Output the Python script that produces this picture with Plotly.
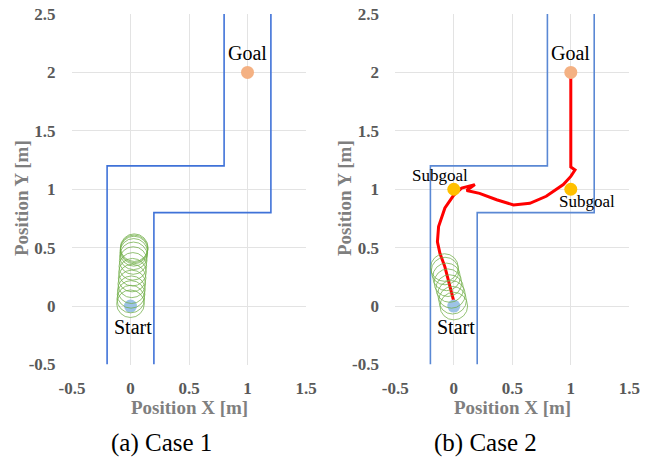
import plotly.graph_objects as go

# ---- data ----
wall_left_x = [-0.2, -0.2, 0.8, 0.8]
wall_left_y = [-0.5, 1.2, 1.2, 2.5]
wall_right_x = [0.2, 0.2, 1.2, 1.2]
wall_right_y = [-0.5, 0.8, 0.8, 2.5]

start = (0.0, 0.0)
goal = (1.0, 2.0)
subgoals_x = [0.0, 1.0]
subgoals_y = [1.0, 1.0]

robot_radius = 0.118
case1_cx = [0.0, 0.002, 0.005, 0.008, 0.011, 0.014, 0.017, 0.02, 0.023, 0.026, 0.028, 0.03, 0.031, 0.032]
case1_cy = [0.02, 0.06, 0.1, 0.14, 0.19, 0.24, 0.29, 0.34, 0.39, 0.43, 0.46, 0.48, 0.49, 0.5]
case2_cx = [0.0, -0.01, -0.02, -0.035, -0.05, -0.062, -0.075, -0.08]
case2_cy = [0.0, 0.05, 0.1, 0.15, 0.2, 0.25, 0.3, 0.33]

path_x = [0.0, -0.033, -0.076, -0.118, -0.14, -0.13, -0.076, 0.0, 0.067, 0.18, 0.11,
          0.22, 0.366, 0.51, 0.65, 0.79, 0.936, 1.0, 1.036, 1.0, 1.0, 1.0]
path_y = [0.04, 0.165, 0.336, 0.45, 0.55, 0.68, 0.84, 0.95, 1.01, 1.04, 0.99,
          0.965, 0.91, 0.866, 0.88, 0.94, 1.04, 1.11, 1.165, 1.19, 1.48, 2.0]

x_ticks = [-0.5, 0, 0.5, 1, 1.5]
y_ticks = [-0.5, 0, 0.5, 1, 1.5, 2, 2.5]
captions = ["(a) Case 1", "(b) Case 2"]

W, H = 654, 458
SERIF = "Liberation Serif"
wall_colors = ["#3F72D8", "#5A88D4"]

fig = go.Figure()

doms_x = [(72 / W, 306 / W), (395.3 / W, 629.3 / W)]
dom_y = (1 - 364.5 / H, 1 - 14 / H)

for i in range(2):
    xa = "x" if i == 0 else "x2"
    ya = "y" if i == 0 else "y2"
    col = wall_colors[i]
    fig.add_trace(go.Scatter(x=wall_left_x, y=wall_left_y, mode="lines",
                             line=dict(color=col, width=1.6), xaxis=xa, yaxis=ya,
                             showlegend=False, hoverinfo="skip"))
    fig.add_trace(go.Scatter(x=wall_right_x, y=wall_right_y, mode="lines",
                             line=dict(color=col, width=1.6), xaxis=xa, yaxis=ya,
                             showlegend=False, hoverinfo="skip"))
    cxs, cys = (case1_cx, case1_cy) if i == 0 else (case2_cx, case2_cy)
    for cx, cy in zip(cxs, cys):
        fig.add_shape(type="circle", xref=xa, yref=ya,
                      x0=cx - robot_radius, x1=cx + robot_radius,
                      y0=cy - robot_radius, y1=cy + robot_radius,
                      line=dict(color="rgba(112,173,71,0.75)", width=1))
    if i == 1:
        fig.add_trace(go.Scatter(x=path_x, y=path_y, mode="lines",
                                 line=dict(color="#FF0000", width=3), xaxis=xa, yaxis=ya,
                                 showlegend=False, hoverinfo="skip"))
        fig.add_trace(go.Scatter(x=subgoals_x, y=subgoals_y, mode="markers",
                                 marker=dict(color="#FFC000", size=13), xaxis=xa, yaxis=ya,
                                 showlegend=False, hoverinfo="skip"))
        fig.add_annotation(x=subgoals_x[0] - 0.115, y=subgoals_y[0] + 0.12, xref=xa, yref=ya,
                           text="Subgoal", showarrow=False, xanchor="center", yanchor="middle",
                           font=dict(family=SERIF, size=17, color="black"))
        fig.add_annotation(x=subgoals_x[1] + 0.135, y=subgoals_y[1] - 0.105, xref=xa, yref=ya,
                           text="Subgoal", showarrow=False, xanchor="center", yanchor="middle",
                           font=dict(family=SERIF, size=17, color="black"))
    fig.add_trace(go.Scatter(x=[start[0]], y=[start[1]], mode="markers",
                             marker=dict(color="#9DC3E6", size=13), xaxis=xa, yaxis=ya,
                             showlegend=False, hoverinfo="skip"))
    fig.add_trace(go.Scatter(x=[goal[0]], y=[goal[1]], mode="markers",
                             marker=dict(color="#F4B183", size=13), xaxis=xa, yaxis=ya,
                             showlegend=False, hoverinfo="skip"))
    fig.add_annotation(x=goal[0], y=goal[1] + 0.165, xref=xa, yref=ya, text="Goal",
                       showarrow=False, xanchor="center", yanchor="middle",
                       font=dict(family=SERIF, size=20, color="black"))
    fig.add_annotation(x=start[0] + 0.02, y=start[1] - 0.175, xref=xa, yref=ya, text="Start",
                       showarrow=False, xanchor="center", yanchor="middle",
                       font=dict(family=SERIF, size=20, color="black"))

    axis_common = dict(showgrid=True, gridcolor="#E3E3E3", gridwidth=1, zeroline=False,
                       showline=False, ticks="outside", tickcolor="rgba(0,0,0,0)",
                       automargin=False,
                       tickfont=dict(family=SERIF, size=17, color="#595959", weight="bold"))
    xkey = "xaxis" if i == 0 else "xaxis2"
    ykey = "yaxis" if i == 0 else "yaxis2"
    fig.update_layout(**{
        xkey: dict(axis_common, domain=doms_x[i], range=[-0.5, 1.5], tickvals=x_ticks,
                   ticktext=[f"{v:g}" for v in x_ticks], ticklen=8, anchor=ya),
        ykey: dict(axis_common, domain=dom_y, range=[-0.5, 2.5], tickvals=y_ticks,
                   ticktext=[f"{v:g}" for v in y_ticks], ticklen=12, anchor=xa),
    })

    cx_px = (doms_x[i][0] + doms_x[i][1]) / 2
    fig.add_annotation(x=cx_px, y=1 - 407 / H, xref="paper", yref="paper",
                       text="Position X [m]", showarrow=False, xanchor="center", yanchor="middle",
                       font=dict(family=SERIF, size=19, color="#7F7F7F", weight="bold"))
    fig.add_annotation(x=(21 if i == 0 else 344) / W, y=1 - 198 / H, xref="paper", yref="paper",
                       text="Position Y [m]", showarrow=False, textangle=-90,
                       xanchor="center", yanchor="middle",
                       font=dict(family=SERIF, size=19, color="#7F7F7F", weight="bold"))
    fig.add_annotation(x=(161.7 if i == 0 else 485.5) / W, y=1 - 443 / H, xref="paper",
                       yref="paper", text=captions[i], showarrow=False,
                       xanchor="center", yanchor="middle",
                       font=dict(family=SERIF, size=25, color="black"))

fig.update_layout(width=W, height=H, margin=dict(l=0, r=0, t=0, b=0),
                  plot_bgcolor="white", paper_bgcolor="white")

fig.write_html("out.html")
